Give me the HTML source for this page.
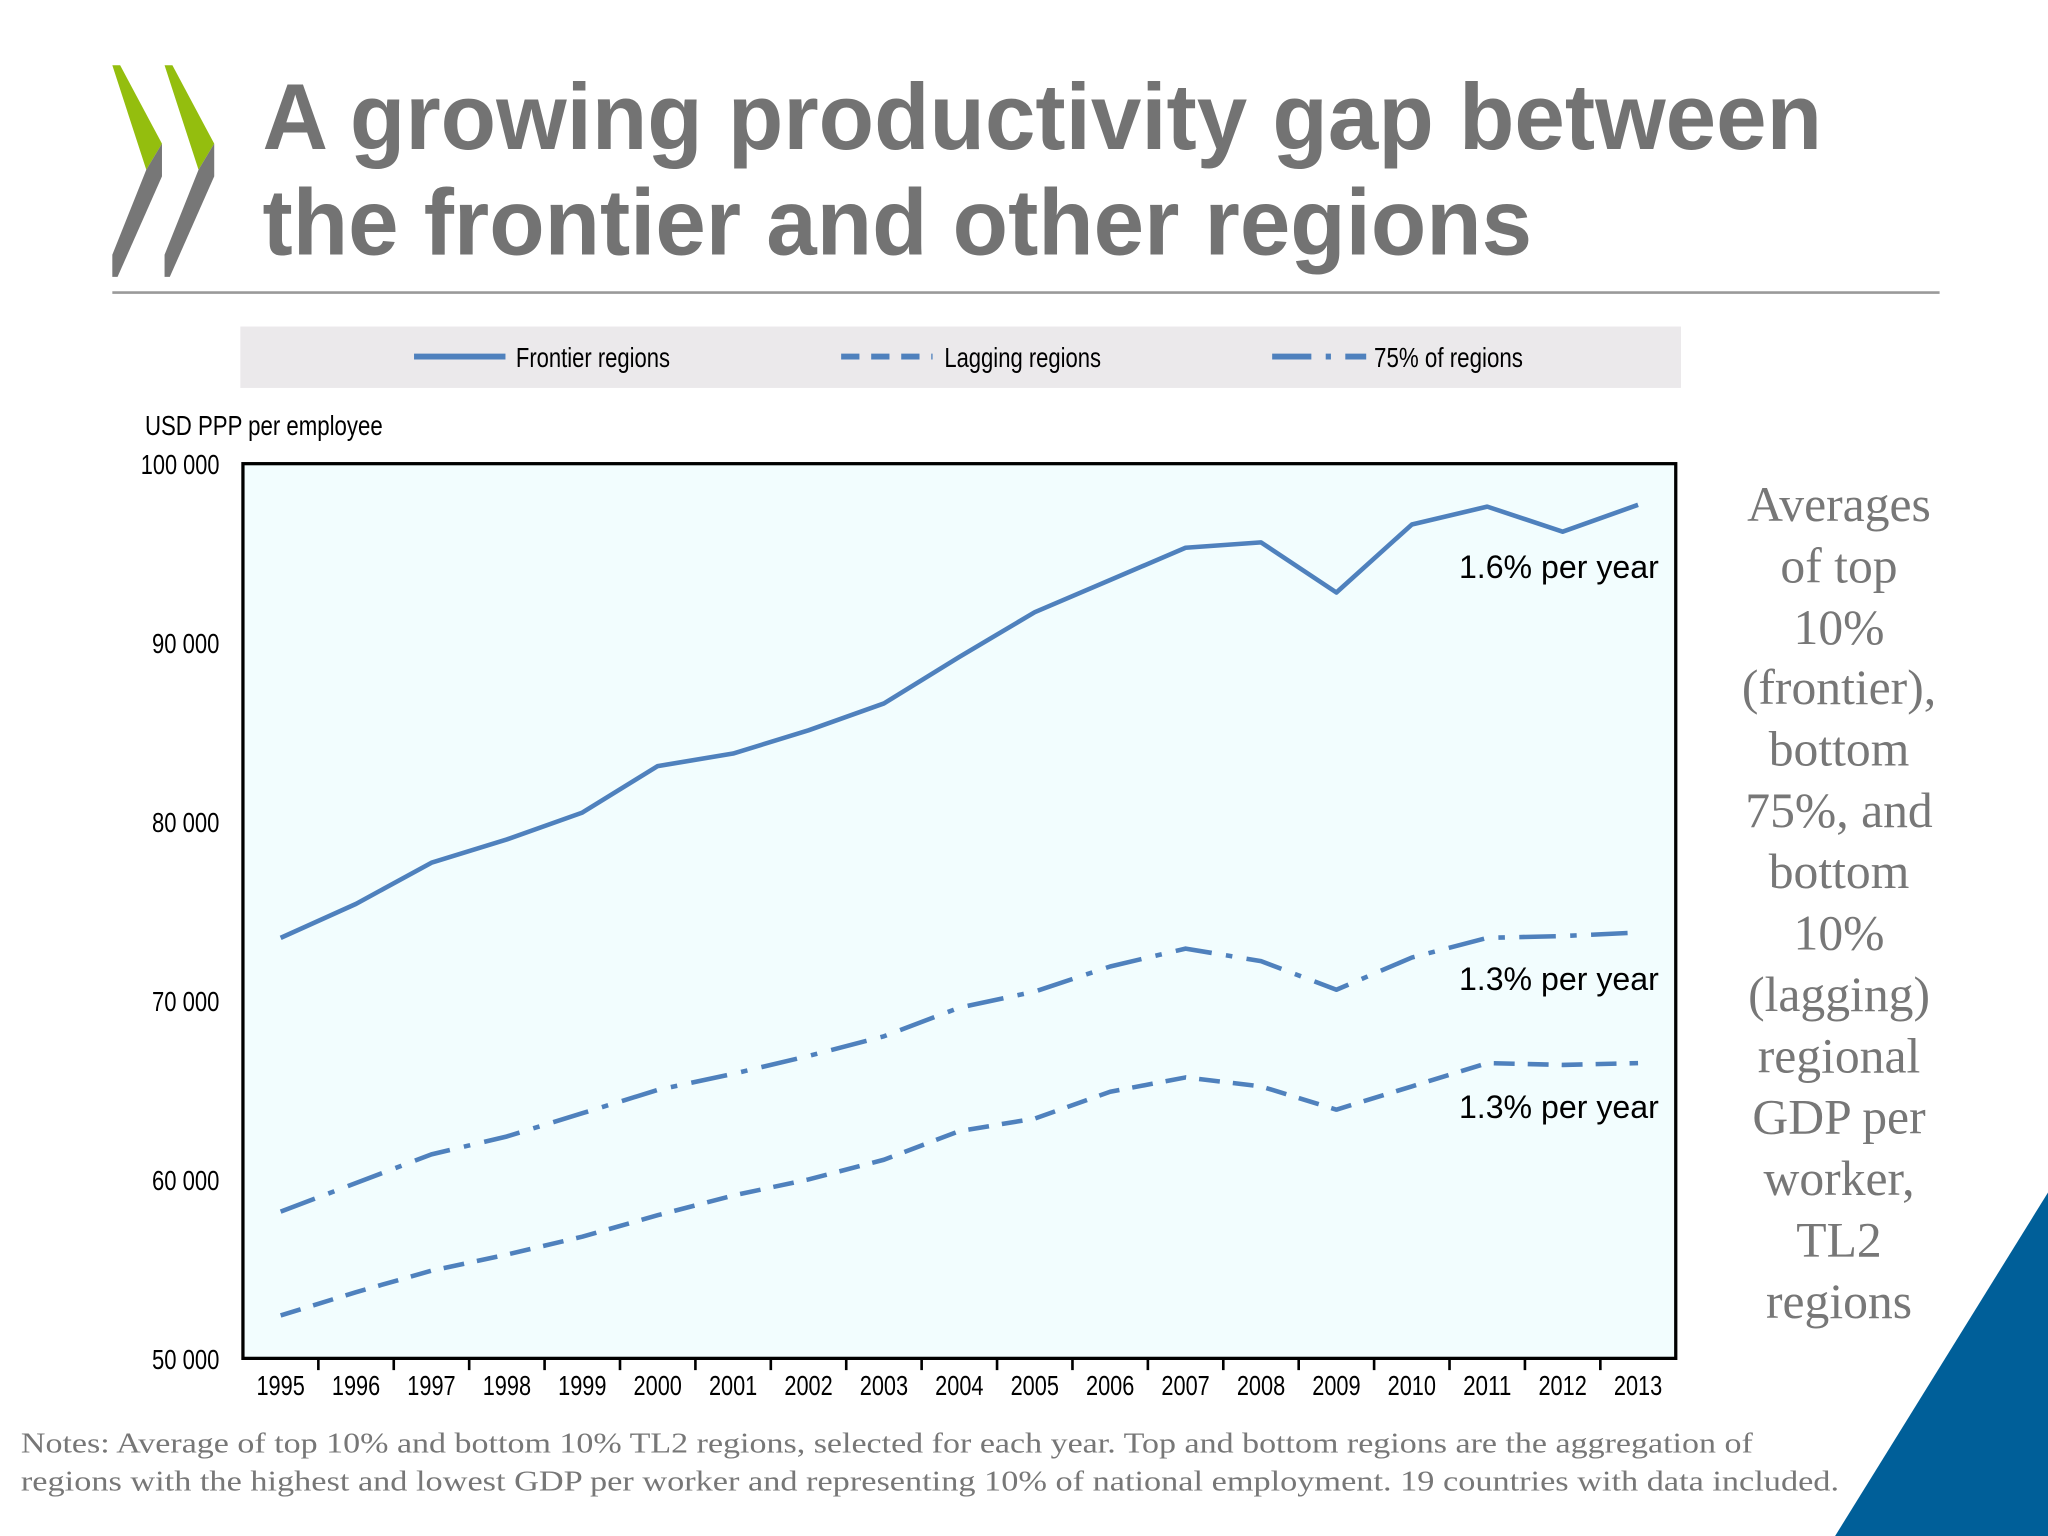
<!DOCTYPE html>
<html><head><meta charset="utf-8"><style>html,body{margin:0;padding:0;background:#fff}svg{display:block}</style></head>
<body>
<svg id="s" width="2048" height="1536" viewBox="0 0 1568 1176" xmlns="http://www.w3.org/2000/svg">
<g>
<polygon points="86,50 92,50 124,110 112,130" fill="#94be0e"/>
<polygon points="112,130 124,110 124,135 90,212 86,212 86,195" fill="#777"/>
<polygon points="126,50 132,50 164,110 152,130" fill="#94be0e"/>
<polygon points="152,130 164,110 164,135 130,212 126,212 126,195" fill="#777"/>
</g>
<text x="201" y="114" font-family="Liberation Sans, sans-serif" font-weight="bold" font-size="72" fill="#737373" textLength="1194" lengthAdjust="spacingAndGlyphs">A growing productivity gap between</text>
<text x="201" y="195" font-family="Liberation Sans, sans-serif" font-weight="bold" font-size="72" fill="#737373" textLength="972" lengthAdjust="spacingAndGlyphs">the frontier and other regions</text>
<line x1="86" y1="224" x2="1485" y2="224" stroke="#9a9a9a" stroke-width="2"/>
<g font-family="Liberation Sans Narrow, Liberation Sans, sans-serif" font-size="21" fill="#000">
<rect x="184" y="250" width="1103" height="47" fill="#ebe9eb"/>
<g><line x1="317" y1="273" x2="387" y2="273" stroke="#4f81bd" stroke-width="4.5"/><text x="395" y="281" textLength="118" lengthAdjust="spacingAndGlyphs">Frontier regions</text></g>
<g><line x1="644" y1="273" x2="714" y2="273" stroke="#4f81bd" stroke-width="4.5" stroke-dasharray="14,9"/><text x="723" y="281" textLength="120" lengthAdjust="spacingAndGlyphs">Lagging regions</text></g>
<g><line x1="974" y1="273" x2="1046" y2="273" stroke="#4f81bd" stroke-width="4.5" stroke-dasharray="30,11,4,11"/><text x="1052" y="281" textLength="114" lengthAdjust="spacingAndGlyphs">75% of regions</text></g>
</g>
<text x="111" y="333" font-family="Liberation Sans Narrow, Liberation Sans, sans-serif" font-size="21" textLength="182" lengthAdjust="spacingAndGlyphs">USD PPP per employee</text>
<rect x="186" y="355" width="1097" height="685" fill="#f2fdfe" stroke="#000" stroke-width="2.5"/>
<g id="chart"></g>
<g font-family="Liberation Serif, serif" font-size="38" fill="#777" text-anchor="middle">
<text x="1408" y="399">Averages</text><text x="1408" y="446">of top</text><text x="1408" y="493">10%</text><text x="1408" y="539">(frontier),</text><text x="1408" y="586">bottom</text><text x="1408" y="633">75%, and</text><text x="1408" y="680">bottom</text><text x="1408" y="727">10%</text><text x="1408" y="774">(lagging)</text><text x="1408" y="821">regional</text><text x="1408" y="868">GDP per</text><text x="1408" y="915">worker,</text><text x="1408" y="962">TL2</text><text x="1408" y="1009">regions</text>
</g>
<g font-family="Liberation Serif, serif" font-size="22" fill="#777">
<text x="16" y="1112" textLength="1326" lengthAdjust="spacingAndGlyphs">Notes: Average of top 10% and bottom 10% TL2 regions, selected for each year. Top and bottom regions are the aggregation of</text>
<text x="16" y="1141" textLength="1392" lengthAdjust="spacingAndGlyphs">regions with the highest and lowest GDP per worker and representing 10% of national employment. 19 countries with data included.</text>
</g>
<polygon points="1405,1176 1568,913 1568,1176" fill="#005f99"/>
</svg>
<script>
const years=[1995,1996,1997,1998,1999,2000,2001,2002,2003,2004,2005,2006,2007,2008,2009,2010,2011,2012,2013];
const frontier=[73.5,75.4,77.7,79.0,80.5,83.1,83.8,85.1,86.6,89.2,91.7,93.5,95.3,95.6,92.8,96.6,97.6,96.2,97.7];
const pct75=[58.2,59.8,61.4,62.4,63.7,65.0,65.9,66.9,68.0,69.6,70.5,71.9,72.9,72.2,70.6,72.4,73.5,73.6,73.8];
const lagging=[52.4,53.7,54.9,55.8,56.8,58.0,59.1,60.0,61.1,62.7,63.4,64.9,65.7,65.2,63.9,65.2,66.5,66.4,66.5];
const yTicks=[50,60,70,80,90,100];
const yTickLabels=["50 000","60 000","70 000","80 000","90 000","100 000"];
const growthLabels=["1.6% per year","1.3% per year","1.3% per year"];
const NS="http://www.w3.org/2000/svg";
const g=document.getElementById('chart');
const X0=186,X1=1283,Y0=1040,Y1=355;
const step=(X1-X0)/years.length;
function xs(i){return X0+step*(i+0.5);}
function ys(v){return Y0-(v-50)/(100-50)*(Y0-Y1);}
function mk(t,a){const e=document.createElementNS(NS,t);for(const k in a)e.setAttribute(k,a[k]);g.appendChild(e);return e;}
yTicks.forEach((v,i)=>{
 const lab=yTickLabels[i];
 const t=mk('text',{x:168,y:ys(v)+8,'text-anchor':'end','font-family':'Liberation Sans Narrow, Liberation Sans, sans-serif','font-size':21,textLength:lab.length*8.6,lengthAdjust:'spacingAndGlyphs'});
 
 
 t.textContent=lab;
});
years.forEach((yr,i)=>{
 if(i>0){const l=mk('line',{x1:X0+step*i,x2:X0+step*i,y1:Y0,y2:Y0+9,stroke:'#000','stroke-width':2});
 
 }
 const t=mk('text',{x:xs(i),y:1068,'text-anchor':'middle','font-family':'Liberation Sans Narrow, Liberation Sans, sans-serif','font-size':21,textLength:37,lengthAdjust:'spacingAndGlyphs'});
 
 
 t.textContent=yr;
});
function line(arr,dash,name){
 const p=mk('polyline',{points:arr.map((v,i)=>xs(i)+','+ys(v)).join(' '),fill:'none',stroke:'#4f81bd','stroke-width':3.5,'stroke-dasharray':dash,'stroke-linejoin':'round'});
 
 
}
line(frontier,'none','frontier-line');
line(pct75,'28,11,5,11','pct75-line');
line(lagging,'16,10','lagging-line');
const lastI=years.length-1;
const labelOffsets=[56,44,42];
[[frontier,0],[pct75,1],[lagging,2]].forEach(([arr,k])=>{
 const t=mk('text',{x:1270,y:ys(arr[lastI])+labelOffsets[k],'text-anchor':'end','font-family':'Liberation Sans, sans-serif','font-size':25,textLength:153,lengthAdjust:'spacingAndGlyphs'});
 
 
 t.textContent=growthLabels[k];
});
</script>
</body></html>
